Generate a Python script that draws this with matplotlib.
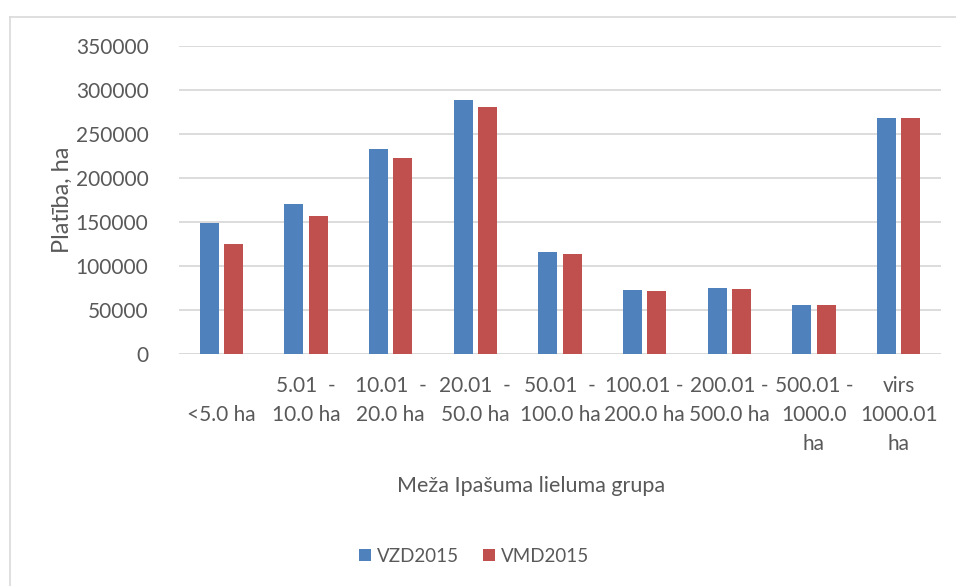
import numpy as np
import matplotlib
matplotlib.use('Agg')
import matplotlib.pyplot as plt
from matplotlib.lines import Line2D

plt.rcParams['font.family'] = ['Lato', 'DejaVu Sans']

groups = ['<5.0 ha', '5.01  -\n10.0 ha', '10.01  -\n20.0 ha', '20.01  -\n50.0 ha',
          '50.01  -\n100.0 ha', '100.01 -\n200.0 ha', '200.01 -\n500.0 ha',
          '500.01 -\n1000.0\nha', 'virs\n1000.01\nha']
vzd2015 = [149000, 170000, 233500, 288300, 116000, 72700, 74600, 55300, 268500]
vmd2015 = [125000, 157200, 223000, 280700, 114000, 71600, 73900, 55200, 268200]

grey = '#595959'
blue = '#4F81BD'
red = '#C0504D'

fig = plt.figure(figsize=(9.56, 5.86), dpi=100)
ax = fig.add_axes([179/956, 1 - 354/586, (941-179)/956, (354-46)/586])

x = np.arange(len(groups))
w = 0.224
ax.bar(x - 0.142, vzd2015, w, color=blue, label='VZD2015', zorder=3)
ax.bar(x + 0.142, vmd2015, w, color=red, label='VMD2015', zorder=3)

ax.set_xlim(-0.5, len(groups) - 0.5)
ax.set_ylim(0, 350000)
ax.set_yticks(np.arange(0, 350001, 50000))
ax.yaxis.grid(True, color='#d9d9d9', linewidth=1.3, zorder=0)
ax.set_axisbelow(True)
for s in ax.spines.values():
    s.set_visible(False)
ax.axhline(0, color='#d9d9d9', linewidth=1.3, zorder=1)

# labels with first line aligned at the top, like Excel wraps them
ax.set_xticks(x)
labels = []
for g in groups:
    parts = g.split('\n')
    if len(parts) == 1:
        parts = [''] + parts
    labels.append('\n'.join(parts))
ax.set_xticklabels(labels, linespacing=1.55, va='top')
ax.tick_params(axis='x', length=0, pad=16, labelsize=15, labelcolor=grey)
ax.tick_params(axis='y', length=0, pad=22, labelsize=15, labelcolor=grey)

fig.text(62/956, 1 - 200/586, 'Platība, ha', rotation=90, ha='center', va='center',
         fontsize=17, color=grey)
fig.text(531/956, 1 - 486/586, 'Meža Ipašuma lieluma grupa', ha='center', va='center',
         fontsize=15.5, color=grey)

fig.legend(loc='center', bbox_to_anchor=(474/956, 1 - 556/586), ncol=2, frameon=False,
           fontsize=13.5, labelcolor=grey, handlelength=0.65, handleheight=0.65,
           handletextpad=0.3, columnspacing=1.3)

# chart border (top and left edges visible)
fig.add_artist(Line2D([10/956, 1], [1 - 17/586, 1 - 17/586], transform=fig.transFigure,
                      color='#d9d9d9', linewidth=1.2))
fig.add_artist(Line2D([10/956, 10/956], [0, 1 - 17/586], transform=fig.transFigure,
                      color='#d9d9d9', linewidth=1.2))

fig.savefig('out.png', dpi=100)
